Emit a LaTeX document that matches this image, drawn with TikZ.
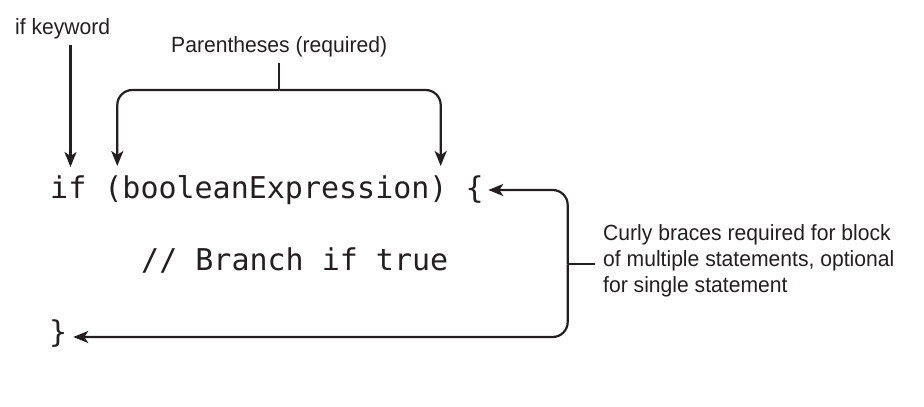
\documentclass[tikz,border=0pt]{standalone}
\usepackage{fontspec}
\setmainfont{Liberation Sans}[FakeStretch=0.96]
\newfontfamily\codefont{DejaVu Sans Mono}
\usetikzlibrary{arrows.meta}
\definecolor{ink}{HTML}{231F20}
\begin{document}
\begin{tikzpicture}[x=1pt,y=-1pt,
  lbl/.style={font=\fontsize{22}{26.3}\selectfont, inner sep=0pt, text=ink},
  codetext/.style={font=\codefont\fontsize{30}{36}\selectfont, inner sep=0pt, text=ink},
  link/.style={draw=ink, line width=2.2pt},
  arr/.style={link, -{Stealth[length=15pt,width=12pt,inset=4pt]}},
  roundturn/.style={rounded corners=15pt}]
\useasboundingbox (0,0) rectangle (924,407);

% labels
\node[lbl, anchor=base west] (kw) at (15,34) {if keyword};
\node[lbl, anchor=base west] (par) at (171,52) {Parentheses (required)};
\node[lbl, anchor=north west, align=left] (curly) at (603,224)
  {Curly braces required for block\\of multiple statements, optional\\for single statement};

% code
\node[codetext, anchor=base west] (code1) at (50,198) {if (booleanExpression) \{};
\node[codetext, anchor=base west] (code2) at (141,270) {// Branch if true};
\node[codetext, anchor=base west] (code3) at (49,342) {\}};

% coordinates
\coordinate (kwtop) at (70.5,45);
\coordinate (kwtip) at (70.5,167);
\coordinate (partop) at (279.3,63);
\coordinate (parjoin) at (279.3,90);
\coordinate (lptip) at (117.3,166);
\coordinate (rptip) at (440.7,166);
\coordinate (brmid) at (567.7,264.3);
\coordinate (brstub) at (595,264.3);
\coordinate (opentip) at (488.3,190);
\coordinate (closetip) at (73.3,337);

% connectors
\draw[arr] (kwtop) -- (kwtip);
\draw[link] (partop) -- (parjoin);
\draw[arr, roundturn] (parjoin) -| (lptip);
\draw[arr, roundturn] (parjoin) -| (rptip);
\draw[arr, roundturn] (brmid) |- (opentip);
\draw[arr, roundturn] (brmid) |- (closetip);
\draw[link] (brmid) -- (brstub);
\end{tikzpicture}
\end{document}
